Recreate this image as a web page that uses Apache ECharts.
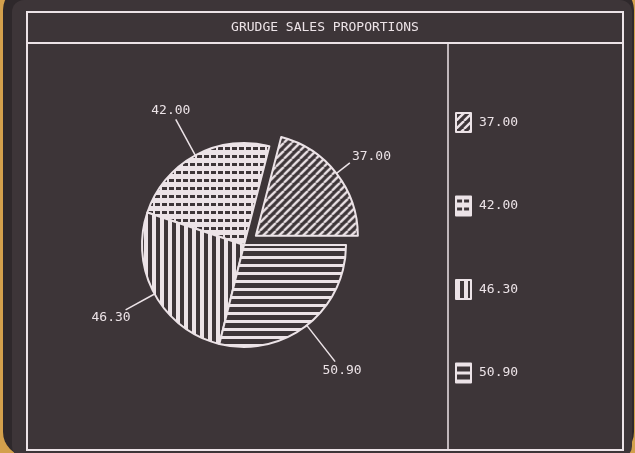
<!DOCTYPE html>
<html>
<head>
<meta charset="utf-8">
<script src="https://cdn.jsdelivr.net/npm/echarts@6/dist/echarts.min.js"></script>
<style>
  html, body { margin: 0; padding: 0; background: #d3a04c; }
  #chart { width: 635px; height: 453px; }
</style>
</head>
<body>
<div id="chart"></div>
<script>
// Chart content
const chartTitle = 'GRUDGE SALES PROPORTIONS';
const salesValues = [37.00, 42.00, 46.30, 50.90];
const valueLabels = salesValues.map(v => v.toFixed(2));
const explodedIndex = 0;
// Leader line length for each slice label
const leaderLengths = [17, 41, 33, 46];

// Display palette
const INK = '#ece3e7';
const SCREEN = '#3d3538';
const BEZEL = '#2e282b';
const MONO = 'DejaVu Sans Mono';

// Small canvas tiles used as repeating hatch fills
function tile(w, h, draw) {
  const c = document.createElement('canvas');
  c.width = w; c.height = h;
  const g = c.getContext('2d');
  draw(g, w, h);
  return { image: c, repeat: 'repeat' };
}
const diagonalHatch = tile(8, 8, (g, w, h) => {
  g.fillStyle = SCREEN; g.fillRect(0, 0, w, h);
  g.strokeStyle = INK; g.lineWidth = 2.4;
  for (let k = -1; k <= 1; k++) {
    g.beginPath(); g.moveTo(k * w, h); g.lineTo(k * w + w, 0); g.stroke();
  }
});
const dashGrid = tile(7, 8, (g, w, h) => {
  g.fillStyle = INK; g.fillRect(0, 0, w, h);
  g.fillStyle = SCREEN; g.fillRect(1, 3, 5, 3);
});
const verticalBars = tile(8, 8, (g, w, h) => {
  g.fillStyle = SCREEN; g.fillRect(0, 0, w, h);
  g.fillStyle = INK; g.fillRect(0, 0, 4, h);
});
const horizontalBars = tile(8, 8, (g, w, h) => {
  g.fillStyle = SCREEN; g.fillRect(0, 0, w, h);
  g.fillStyle = INK; g.fillRect(0, 0, w, 3);
});
const sliceFills = [diagonalHatch, dashGrid, verticalBars, horizontalBars];

const chart = echarts.init(document.getElementById('chart'), null, { renderer: 'canvas' });

// Push each label outward along its leader so the label box just touches the line end.
// The pulled-out slice keeps its default placement (it moves with the slice), sitting above the line end.
function placeLabel(params) {
  if (params.dataIndex === explodedIndex) {
    return { align: 'left', verticalAlign: 'bottom' };
  }
  const pts = params.labelLinePoints;
  if (!pts || pts.length < 2) return {};
  const a = pts[0], b = pts[pts.length - 1];
  let dx = b[0] - a[0], dy = b[1] - a[1];
  const len = Math.hypot(dx, dy) || 1;
  dx /= len; dy /= len;
  const box = params.labelRect;
  const hw = box.width / 2, hh = box.height / 2;
  const t = Math.min(hw / Math.max(Math.abs(dx), 1e-6), hh / Math.max(Math.abs(dy), 1e-6)) + 3;
  return {
    x: b[0] + dx * t,
    y: b[1] + dy * t,
    align: 'center',
    verticalAlign: 'middle',
    labelLinePoints: pts
  };
}

chart.setOption({
  backgroundColor: '#d3a04c',
  animation: false,
  title: {
    text: chartTitle,
    left: 320,
    top: 16,
    textAlign: 'center',
    textStyle: { color: INK, fontFamily: MONO, fontSize: 13, fontWeight: 'normal' }
  },
  legend: {
    orient: 'vertical',
    left: 450,
    top: 107,
    itemWidth: 15,
    itemHeight: 19,
    itemGap: 62.5,
    icon: 'rect',
    selectedMode: false,
    data: valueLabels,
    textStyle: { color: INK, fontFamily: MONO, fontSize: 13, padding: [0, 0, 0, 3] }
  },
  graphic: [
    { type: 'rect', z: -20, shape: { x: 3, y: -14, width: 631, height: 470, r: 24 }, style: { fill: BEZEL } },
    { type: 'rect', z: -19, shape: { x: 12, y: 0, width: 620, height: 458, r: 12 }, style: { fill: SCREEN } },
    { type: 'rect', z: -5, shape: { x: 27, y: 12, width: 596, height: 438 }, style: { fill: 'none', stroke: INK, lineWidth: 2 } },
    { type: 'line', z: -5, shape: { x1: 27, y1: 43, x2: 623, y2: 43 }, style: { stroke: INK, lineWidth: 2 } },
    { type: 'line', z: -5, shape: { x1: 448, y1: 43, x2: 448, y2: 450 }, style: { stroke: INK, lineWidth: 1.5 } }
  ],
  series: [{
    type: 'pie',
    center: [244, 245],
    radius: 102,
    startAngle: 0,
    clockwise: false,
    avoidLabelOverlap: false,
    selectedMode: 'single',
    selectedOffset: 15,
    itemStyle: { borderColor: INK, borderWidth: 2 },
    label: {
      show: true,
      position: 'outside',
      color: INK,
      fontFamily: MONO,
      fontSize: 13,
      distanceToLabelLine: 2,
      formatter: p => p.value.toFixed(2)
    },
    labelLine: { show: true, length2: 0, smooth: false, lineStyle: { color: INK, width: 1.5 } },
    labelLayout: placeLabel,
    emphasis: { disabled: true },
    data: salesValues.map((v, i) => ({
      name: valueLabels[i],
      value: v,
      selected: i === explodedIndex,
      itemStyle: { color: sliceFills[i] },
      select: { itemStyle: { color: sliceFills[i], borderColor: INK, borderWidth: 2 } },
      labelLine: { length: leaderLengths[i] }
    }))
  }]
});
</script>
</body>
</html>
